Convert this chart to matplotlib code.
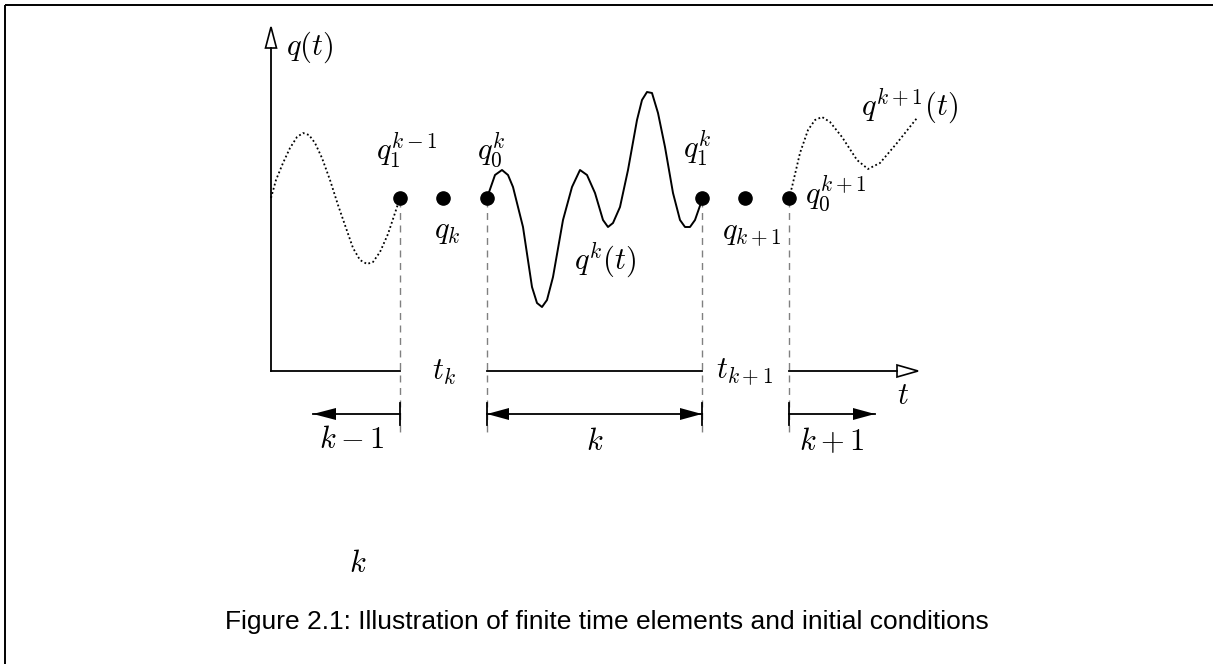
import matplotlib
matplotlib.use("Agg")
import matplotlib.pyplot as plt
import numpy as np

plt.rcParams['mathtext.fontset'] = 'cm'

W, H = 1213, 664

# ---- data (diagram coordinates, pixel-like units, y downwards) ----
# previous element trajectory (dotted)
prev_x = [271, 276, 283, 290, 297, 303, 309, 315, 322, 330, 338, 346, 353, 360, 367, 373, 380, 388, 395, 400]
prev_y = [198, 180, 163, 148, 137, 133, 135, 143, 158, 180, 205, 228, 248, 260, 264, 262, 252, 234, 213, 198]

# current element trajectory (solid)
cur_x = [487, 495, 502, 508, 513, 523, 532, 537, 542, 547, 553, 563, 572, 580, 587, 595, 603, 608, 613, 620,
         628, 637, 642, 647, 652, 658, 665, 673, 680, 685, 690, 695, 702]
cur_y = [198, 175, 170, 175, 187, 227, 287, 303, 307, 300, 277, 220, 187, 170, 175, 193, 220, 227, 223, 207,
         170, 120, 100, 92, 93, 113, 147, 193, 220, 227, 227, 220, 200]

# next element trajectory (dotted)
nxt_x = [789, 792, 800, 808, 815, 822, 830, 842, 857, 868, 880, 897, 917]
nxt_y = [198, 187, 153, 130, 120, 117, 122, 137, 160, 169, 163, 143, 118]

# nodes: boundary values and state points
node_x = [400, 443, 487, 702, 745, 789]
node_y = [198, 198, 198, 198, 198, 198]

# element boundaries on the time axis
bound_x = [400, 487, 702, 789]

fig = plt.figure(figsize=(W / 100, H / 100), dpi=100)
ax = fig.add_axes([0, 0, 1, 1])
ax.set_xlim(0, W)
ax.set_ylim(H, 0)
ax.axis('off')

# frame (top and left only)
ax.plot([5, W], [5, 5], color='black', lw=1.4, solid_capstyle='butt')
ax.plot([5, 5], [5, H], color='black', lw=1.4, solid_capstyle='butt')

# axes
axis_y = 371
axis_x0 = 271
ax.plot([axis_x0, axis_x0], [axis_y, 48], color='black', lw=1.3)
ax.plot([axis_x0, bound_x[0]], [axis_y, axis_y], color='black', lw=1.3)
ax.plot([bound_x[1], bound_x[2]], [axis_y, axis_y], color='black', lw=1.3)
ax.plot([bound_x[3], 897], [axis_y, axis_y], color='black', lw=1.3)
# hollow arrow heads
ax.fill([axis_x0 - 5.5, axis_x0 + 5.5, axis_x0], [48, 48, 27], facecolor='white', edgecolor='black', lw=1.2)
ax.fill([897, 897, 918], [axis_y - 6, axis_y + 6, axis_y], facecolor='white', edgecolor='black', lw=1.2)

# dashed boundary lines
for bx in bound_x:
    ax.plot([bx, bx], [200, 435], color='#808080', lw=1.0, dashes=(5, 4))

# curves
ax.plot(prev_x, prev_y, color='black', lw=1.3, dashes=(1, 1.4))
ax.plot(cur_x, cur_y, color='black', lw=1.4)
ax.plot(nxt_x, nxt_y, color='black', lw=1.3, dashes=(1, 1.4))

# nodes
ax.plot(node_x, node_y, 'o', color='black', markersize=9.5, zorder=5)

# element extent arrows
arr_y = 414
def head(xtip, xbase):
    ax.fill([xbase, xbase, xtip], [arr_y - 6, arr_y + 6, arr_y], color='black', lw=0)

ax.plot([313, bound_x[0]], [arr_y, arr_y], color='black', lw=1.3)
head(313, 336)
ax.plot([bound_x[0], bound_x[0]], [403, 425], color='black', lw=1.3)

ax.plot([bound_x[1], bound_x[2]], [arr_y, arr_y], color='black', lw=1.3)
head(bound_x[1], bound_x[1] + 22)
head(bound_x[2], bound_x[2] - 22)
ax.plot([bound_x[1], bound_x[1]], [403, 425], color='black', lw=1.3)
ax.plot([bound_x[2], bound_x[2]], [403, 425], color='black', lw=1.3)

ax.plot([bound_x[3], 875], [arr_y, arr_y], color='black', lw=1.3)
head(875, 853)
ax.plot([bound_x[3], bound_x[3]], [403, 425], color='black', lw=1.3)

fs = 22
def T(x, y, s, ha='center', va='center', size=fs):
    ax.text(x, y, s, ha=ha, va=va, fontsize=size)

T(286, 47, r'$q(t)$', ha='left')
T(407, 150, r'$q_1^{k-1}$')
T(491, 150, r'$q_0^{k}$')
T(447, 232, r'$q_k$')
T(605, 260, r'$q^{k}(t)$')
T(697, 148, r'$q_1^{k}$')
T(752, 233, r'$q_{k+1}$')
T(805, 194, r'$q_0^{k+1}$', ha='left')
T(910, 106, r'$q^{k+1}(t)$')
T(444, 372, r'$t_k$')
T(745, 372, r'$t_{k+1}$')
T(903, 396, r'$t$')
T(352, 439, r'$k-1$')
T(595, 441, r'$k$')
T(832, 441, r'$k+1$')
T(358, 563, r'$k$')

ax.text(607, 622, 'Figure 2.1: Illustration of finite time elements and initial conditions',
        ha='center', va='center', fontsize=19, family='Liberation Sans')

fig.savefig('out.png', dpi=100)
